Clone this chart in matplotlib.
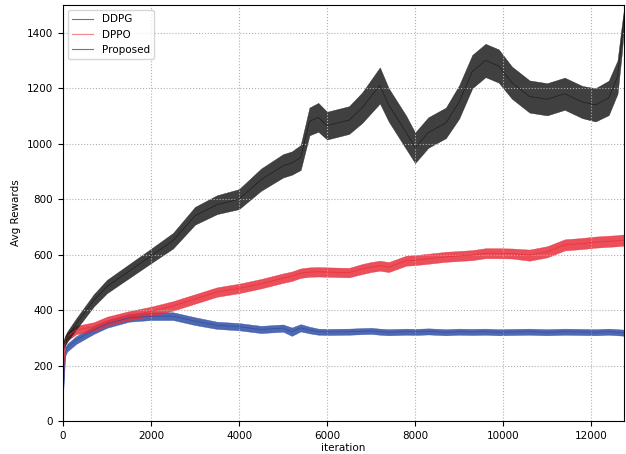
import numpy as np
import matplotlib
matplotlib.use("Agg")
import matplotlib.pyplot as plt

iters = [0, 50, 100, 300, 700, 1000, 1500, 2000, 2500, 3000, 3500, 4000, 4500,
         5000, 5200, 5400, 5600, 5800, 6000, 6500, 6800, 7000, 7200, 7400, 7800,
         8000, 8300, 8700, 9000, 9300, 9600, 9900, 10200, 10600, 11000, 11400,
         11800, 12100, 12400, 12600, 12700, 12750]

# average reward (centre of the noisy trace)
ddpg = [100, 250, 265, 292, 328, 350, 372, 378, 378, 360, 345, 340, 330,
        335, 322, 336, 328, 322, 321, 322, 324, 325, 322, 320, 322,
        321, 323, 320, 322, 321, 322, 320, 321, 322, 320, 322,
        321, 320, 322, 320, 319, 318]
dppo = [140, 290, 305, 328, 340, 360, 380, 395, 415, 440, 465, 478, 495,
        515, 522, 533, 537, 538, 537, 535, 548, 555, 560, 555, 578,
        580, 585, 592, 595, 598, 605, 605, 604, 598, 610, 635,
        640, 645, 648, 650, 652, 652]
proposed = [270, 290, 305, 350, 435, 485, 540, 595, 650, 740, 780, 800, 870,
            920, 930, 950, 1080, 1095, 1065, 1085, 1130, 1170, 1210, 1140, 1040,
            985, 1040, 1075, 1150, 1260, 1300, 1280, 1220, 1170, 1160, 1180,
            1150, 1140, 1165, 1240, 1380, 1460]

# half width of the noise band
ddpg_spread = [10, 15, 14, 14, 14, 14, 14, 14, 14, 14, 13, 13, 13,
               13, 15, 13, 12, 11, 11, 11, 11, 11, 11, 11, 11,
               11, 11, 11, 11, 11, 11, 11, 11, 11, 11, 11,
               11, 11, 11, 11, 11, 11]
dppo_spread = [10, 15, 15, 15, 16, 16, 16, 17, 17, 17, 17, 17, 17,
               17, 17, 17, 17, 17, 17, 17, 18, 18, 18, 18, 18,
               18, 18, 18, 18, 18, 18, 18, 18, 20, 20, 20,
               20, 20, 20, 20, 20, 20]
proposed_spread = [15, 18, 18, 20, 22, 24, 25, 26, 28, 32, 34, 36, 40,
                   42, 42, 45, 50, 52, 50, 50, 55, 60, 65, 60, 60,
                   55, 55, 55, 60, 60, 60, 60, 58, 58, 58, 58,
                   58, 60, 62, 60, 50, 30]

series = [
    ("DDPG", ddpg, ddpg_spread, "#2f4fa5", "#5a6fc8"),
    ("DPPO", dppo, dppo_spread, "#e8303c", "#f08a90"),
    ("Proposed", proposed, proposed_spread, "#1e1e1e", "#777777"),
]

fig = plt.figure(figsize=(6.26, 4.54), dpi=100)
ax = fig.add_axes([0.1006, 0.0727, 0.8964, 0.9163])

x = np.asarray(iters)
for name, vals, spread, col, legcol in series:
    v = np.asarray(vals, dtype=float)
    s = np.asarray(spread, dtype=float)
    ax.fill_between(x, v - s, v + s, color=col, alpha=0.85, linewidth=0.3,
                    edgecolor=col)
    ax.plot(x, v, color=col, lw=0.5)
    # thin proxy line for the legend
    ax.plot([], [], color=legcol, lw=0.8, label=name)

ax.set_xlim(0, 12750)
ax.set_ylim(0, 1500)
ax.set_xticks(range(0, 12001, 2000))
ax.set_yticks(range(0, 1401, 200))
ax.grid(True, linestyle=":", color="#b0b0b0", linewidth=0.8)
ax.set_xlabel("iteration", fontsize=7.5, labelpad=2)
ax.set_ylabel("Avg Rewards", fontsize=7.5)
ax.tick_params(labelsize=7.5)
ax.legend(loc="upper left", fontsize=7.5)

fig.savefig("out.png", dpi=100)
